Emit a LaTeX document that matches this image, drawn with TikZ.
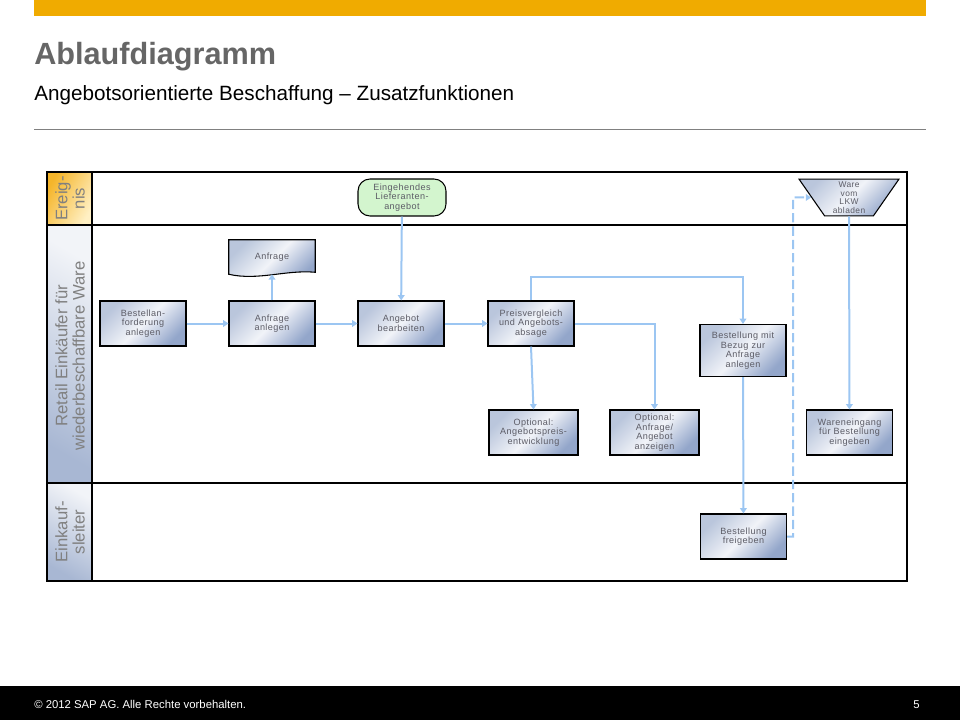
\documentclass[tikz,border=0pt]{standalone}
\usepackage{fontspec}
\setmainfont{Liberation Sans}
\newfontfamily\taskfam{Liberation Sans}[LetterSpace=5]
\usetikzlibrary{shapes.geometric,arrows.meta,backgrounds}

\definecolor{sapgold}{HTML}{F0AB00}
\definecolor{titlegray}{HTML}{666666}
\definecolor{flowblue}{HTML}{9CC6F2}
\definecolor{boxtl}{HTML}{BAC6DC}
\definecolor{boxmid}{HTML}{F1F3F8}
\definecolor{boxbr}{HTML}{93A6CA}
\definecolor{txtgray}{HTML}{5C5C66}
\definecolor{lanegray}{HTML}{808080}
\definecolor{evgreen}{HTML}{D3F5CE}
\definecolor{headorange}{HTML}{F5B52A}
\definecolor{headyellow}{HTML}{FFF0C4}
\definecolor{headblue}{HTML}{A8B7D3}
\definecolor{headlight}{HTML}{F2F4F8}

\newcommand{\taskfont}{\taskfam\fontsize{6.8}{7.2}\selectfont}

\begin{document}
\begin{tikzpicture}[x=0.75pt,y=-0.75pt]
    \tikzstyle{task} = [rectangle, draw, line width=0.8pt, left color=boxtl, right color=boxbr, middle color=boxmid, shading angle=45, minimum width=64.5pt, minimum height=33.75pt, text width=62pt, align=center, inner sep=1pt, font=\taskfont, text=txtgray]
    \tikzstyle{docbox} = [rectangle, minimum width=64.5pt, minimum height=25.5pt, text width=62pt, align=center, inner sep=1pt, font=\taskfont, text=txtgray]
    \tikzstyle{event} = [rectangle, rounded corners=9pt, draw, line width=0.8pt, fill=evgreen, minimum width=66pt, minimum height=27.75pt, text width=62pt, align=center, inner sep=1pt, font=\taskfont, text=txtgray]
    \tikzstyle{manual} = [trapezium, trapezium left angle=62, trapezium right angle=62, trapezium stretches=true, shape border rotate=180, draw, line width=0.8pt, left color=boxtl, right color=boxbr, middle color=boxmid, shading angle=45, minimum width=75pt, minimum height=27.5pt, inner sep=0pt, align=center, font=\taskfam\fontsize{6.3}{6.5}\selectfont, text=txtgray]
    \tikzstyle{lanehead} = [rotate=90, align=center, font=\fontsize{12.5}{13}\selectfont, text=lanegray, inner sep=0pt]
    \tikzstyle{flow} = [draw=flowblue, line width=1.5pt, -{Triangle[width=5pt,length=4pt]}]

    \useasboundingbox (0,0) rectangle (960,720);

    % Kopf
    \fill[sapgold] (34,0) rectangle (926,16);
    \node [anchor=base west, inner sep=0pt, font=\fontsize{23}{23}\selectfont\bfseries, text=titlegray] (title) at (34,65) {Ablaufdiagramm};
    \node [anchor=base west, inner sep=0pt, font=\fontsize{15.5}{15.5}\selectfont] (subtitle) at (34,101) {Angebotsorientierte Beschaffung -- Zusatzfunktionen};
    \draw[gray, line width=0.6pt] (34,129) -- (926,129);

    % Fuss
    \fill[black] (0,686) rectangle (960,720);
    \node [anchor=base west, inner sep=0pt, text=white, font=\fontsize{8.5}{9}\selectfont] (copyright) at (34,708) {\textcopyright\ 2012 SAP AG. Alle Rechte vorbehalten.};
    \node [anchor=base east, inner sep=0pt, text=white, font=\fontsize{8.5}{9}\selectfont] (pageno) at (920,708) {5};

    % Bahnen
    \shade[left color=headorange, right color=headyellow, shading angle=60] (47,172) rectangle (92,225);
    \shade[top color=headlight, bottom color=headblue, shading angle=-30] (47,225) rectangle (92,483);
    \shade[top color=headlight, bottom color=headblue, shading angle=-30] (47,483) rectangle (92,581);
    \draw[line width=1.5pt] (47,172) rectangle (907,581);
    \draw[line width=1.5pt] (92,172) -- (92,581);
    \draw[line width=1.5pt] (47,225) -- (907,225);
    \draw[line width=1.5pt] (47,483) -- (907,483);
    \node [lanehead] (laneev) at (70,198.5) {Ereig-\\nis};
    \node [lanehead] (laneret) at (70,356) {Retail Einkäufer für\\wiederbeschaffbare Ware};
    \node [lanehead] (laneeinl) at (70,532) {Einkauf-\\sleiter};

    % Ereignisse
    \node [event] (eingang) at (402,197.5) {Eingehendes\\Lieferanten-\\angebot};
    \node [manual] (wareab) at (849,197.5) {Ware\\vom\\LKW\\abladen};

    % Anfrage
    \node [task] (bestanf) at (143,323.5) {Bestellan-\\forderung\\anlegen};
    \node [task] (anfanl) at (272,323.5) {Anfrage\\anlegen};
    \node [docbox] (anfdoc) at (272,257) {Anfrage\\[6pt]};
    \begin{scope}[on background layer]
        \path[draw, line width=0.8pt, left color=boxtl, right color=boxbr, middle color=boxmid, shading angle=45]
            (anfdoc.north west) -- (anfdoc.north east) -- ([yshift=1.5pt]anfdoc.south east)
            .. controls ([xshift=-22pt,yshift=3.5pt]anfdoc.south east) and ([xshift=22pt,yshift=-5pt]anfdoc.south west) .. (anfdoc.south west) -- cycle;
    \end{scope}

    % Angebot
    \node [task] (angbear) at (401,323.5) {Angebot\\bearbeiten};
    \node [task] (preisvgl) at (531,323.5) {Preisvergleich\\und Angebots-\\absage};
    \node [task, minimum width=66.75pt] (optpreis) at (533.5,432.5) {Optional:\\Angebotspreis-\\entwicklung};
    \node [task, minimum width=66.75pt] (optanz) at (654.5,432.5) {Optional:\\Anfrage/\\Angebot\\anzeigen};

    % Bestellung
    \node [task, minimum height=39pt] (bestbez) at (743,350.5) {Bestellung mit\\Bezug zur\\Anfrage\\anlegen};
    \node [task] (bestfrei) at (743.5,536.5) {Bestellung\\freigeben};
    \node [task] (wareein) at (849.5,432.5) {Wareneingang\\für Bestellung\\eingeben};

    % Verbindungen
    \coordinate (dashknick) at (793,197.5);
    \draw[flow] (bestanf) -- (anfanl);
    \draw[flow] (anfanl) -- (anfdoc.south);
    \draw[flow] (anfanl) -- (angbear);
    \draw[flow] (eingang) -- (angbear);
    \draw[flow] (angbear) -- (preisvgl);
    \draw[flow] (preisvgl.north) -- ++(0,-23) -| (bestbez.north);
    \draw[flow] (preisvgl.east) -| (optanz.north);
    \draw[flow] (preisvgl.south) -- (optpreis.north);
    \draw[flow] (bestbez) -- (bestfrei);
    \draw[flow, dash pattern=on 7pt off 3pt] (bestfrei.east) -| (dashknick) -- (wareab);
    \draw[flow] (wareab) -- (wareein);
\end{tikzpicture}
\end{document}
